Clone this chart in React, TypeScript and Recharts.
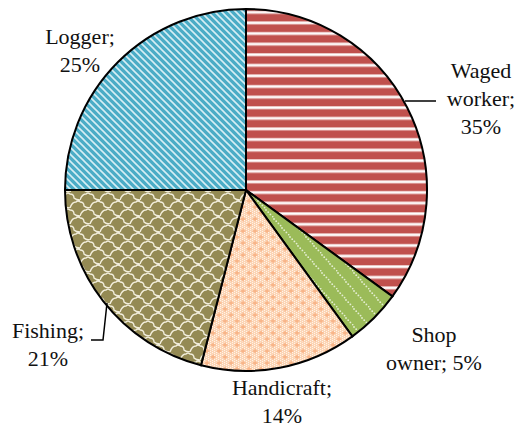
import { Cell, Pie, PieChart } from "recharts";

const CATEGORIES = ["Waged worker", "Shop owner", "Handicraft", "Fishing", "Logger"];
const SHARES = [35, 5, 14, 21, 25];
const LABEL_LINES = [
  ["Waged", "worker;", "35%"],
  ["Shop", "owner; 5%"],
  ["Handicraft;", "14%"],
  ["Fishing;", "21%"],
  ["Logger;", "25%"],
];

const data = CATEGORIES.map((name, i) => ({ name, value: SHARES[i] }));

const FILLS = ["url(#pWaged)", "url(#pShop)", "url(#pHandi)", "url(#pFish)", "url(#pLog)"];

// label anchor (centre x, first baseline) relative to the pie centre
const LABEL_POS = [
  { dx: 235, dy: -112 },
  { dx: 188, dy: 152 },
  { dx: 36, dy: 205 },
  { dx: -198, dy: 148 },
  { dx: -166, dy: -146 },
];
const LINE_H = 28;
const FONT = "Liberation Serif";

function PieLabel(props: any) {
  const { cx, cy, index } = props;
  const pos = LABEL_POS[index];
  const x = cx + pos.dx;
  const y = cy + pos.dy;
  return (
    <g>
      {index === 0 && (
        <polyline points={`${cx + 159},${cy - 89} ${cx + 190},${cy - 89}`} stroke="#000" strokeWidth={1.5} fill="none" />
      )}
      {index === 3 && (
        <polyline
          points={`${cx - 139},${cy + 113} ${cx - 143},${cy + 150} ${cx - 155},${cy + 150}`}
          stroke="#000"
          strokeWidth={1.5}
          fill="none"
        />
      )}
      <text x={x} y={y} textAnchor="middle" fontFamily={FONT} fontSize={22} fill="#111">
        {LABEL_LINES[index].map((line, i) => (
          <tspan key={i} x={x} dy={i === 0 ? 0 : LINE_H}>
            {line}
          </tspan>
        ))}
      </text>
    </g>
  );
}

const handiDots: { x: number; y: number }[] = [];
for (let i = 0; i < 6; i++) for (let j = 0; j < 6; j++) handiDots.push({ x: i * 2, y: j * 2 + (i % 2) });

export default function App() {
  return (
    <div style={{ position: "absolute", left: 0, top: 0, width: 520, height: 428, background: "#fff" }}>
      <PieChart width={520} height={428} margin={{ top: 0, right: 0, bottom: 0, left: 0 }}>
        <defs>
          <pattern id="pWaged" patternUnits="userSpaceOnUse" width={10} height={10.6}>
            <rect width={10} height={10.6} fill="#C0504D" />
            <rect y={0} width={10} height={3.4} fill="#E8B9B7" />
            <rect y={0.8} width={10} height={1.8} fill="#FFFFFF" />
          </pattern>
          <pattern id="pShop" patternUnits="userSpaceOnUse" width={16} height={18}>
            <rect width={16} height={18} fill="#9BBB59" />
            {[0, 1, 2, 3].map((k) => (
              <circle key={k} cx={2 + k * 2.2} cy={3 + k * 2.2} r={0.9} fill="#E4EED2" />
            ))}
            {[0, 1, 2, 3].map((k) => (
              <circle key={`b${k}`} cx={10 + k * 2.2 - 16 * (k > 2 ? 1 : 0)} cy={12 + k * 2.2 - 18 * (k > 2 ? 1 : 0)} r={0.9} fill="#E4EED2" />
            ))}
          </pattern>
          <pattern id="pHandi" patternUnits="userSpaceOnUse" width={12} height={12}>
            <rect width={12} height={12} fill="#FCD5B5" />
            {handiDots.map((d, i) => (
              <rect key={i} x={d.x} y={d.y} width={1} height={1} fill="#FFF3E9" />
            ))}
            <path d="M3,0.5 V5.5 M0.5,3 H5.5" stroke="#F8B183" strokeWidth={1.3} />
            <path d="M9,6.5 V11.5 M6.5,9 H11.5" stroke="#F8B183" strokeWidth={1.3} />
          </pattern>
          <pattern id="pFish" patternUnits="userSpaceOnUse" width={20} height={16}>
            <rect width={20} height={16} fill="#948A54" />
            <path
              d="M0,8 Q2,2 6,2 Q8,0 10,2 Q14,2 14,6 Q16,8 20,8 M10,16 Q12,10 16,10 Q18,8 20,10 M0,10 Q4,10 4,14 Q6,16 10,16"
              stroke="#F2EEDC"
              strokeWidth={1.4}
              fill="none"
            />
          </pattern>
          <pattern id="pLog" patternUnits="userSpaceOnUse" width={7} height={7}>
            <rect width={7} height={7} fill="#4BACC6" />
            <path d="M-1,-1 L8,8 M-1,6 L1,8 M6,-1 L8,1" stroke="#D6EEF4" strokeWidth={1.6} />
          </pattern>
        </defs>
        <Pie
          data={data}
          dataKey="value"
          nameKey="name"
          cx={246}
          cy={190}
          outerRadius={181}
          startAngle={90}
          endAngle={-270}
          stroke="#000"
          strokeWidth={2}
          label={PieLabel}
          labelLine={false}
          isAnimationActive={false}
        >
          {data.map((_, i) => (
            <Cell key={i} fill={FILLS[i]} stroke="#000" strokeWidth={2} />
          ))}
        </Pie>
      </PieChart>
    </div>
  );
}
